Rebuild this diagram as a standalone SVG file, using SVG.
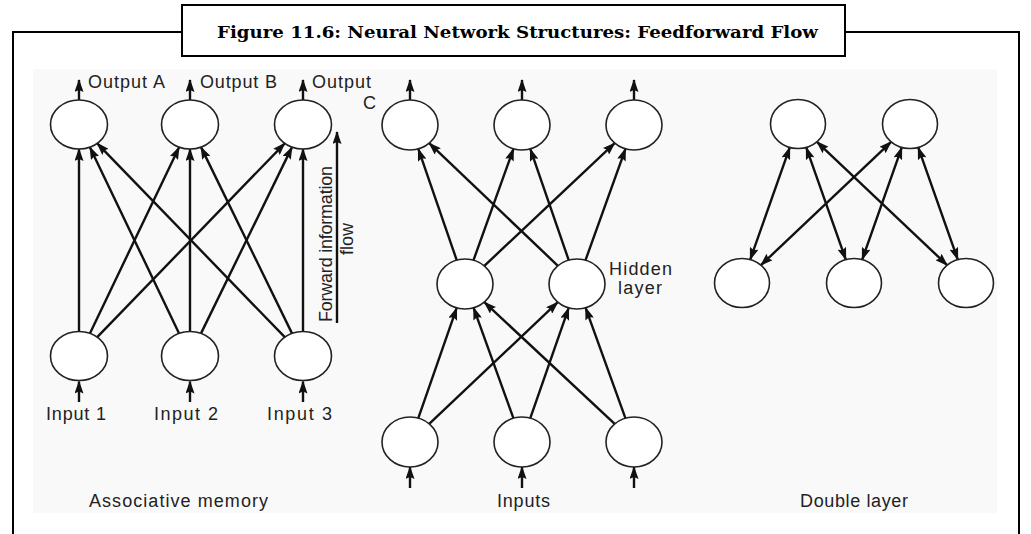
<svg xmlns="http://www.w3.org/2000/svg" width="1031" height="534" viewBox="0 0 1031 534">
<style>
.frame{fill:none;stroke:#000;stroke-width:2}
.node{fill:#fff;stroke:#222;stroke-width:1.6}
.edge{fill:none;stroke:#111;stroke-width:2.4;marker-end:url(#ah)}
.bi{marker-start:url(#ah)}
.lbl{font-family:"Liberation Sans",Arial,sans-serif;font-size:18px;fill:#222}
.title{font-family:"DejaVu Serif","Liberation Serif",serif;font-size:17px;font-weight:bold;fill:#000}
</style>
<defs>
<marker id="ah" markerUnits="userSpaceOnUse" viewBox="0 0 13 9" markerWidth="13" markerHeight="9" refX="12" refY="4.5" orient="auto-start-reverse">
<path d="M0,0 L13,4.5 L0,9 L2,4.5 z" fill="#111"/>
</marker>
</defs>
<rect x="0" y="0" width="1031" height="534" fill="#fff"/>
<rect x="33" y="69" width="964" height="444" fill="#f9f9f9"/>
<g id="frame">
<path class="frame" d="M182,32 H13 V534 M846,32 H1019 V534"/>
<rect class="frame" x="182" y="5" width="663" height="51" fill="#fff"/>
<text class="title" x="217" y="38" textLength="601" lengthAdjust="spacingAndGlyphs">Figure 11.6: Neural Network Structures: Feedforward Flow</text>
</g>
<g id="connectors">
<line class="edge" x1="79" y1="331.5" x2="79" y2="149"/>
<line class="edge" x1="89.9" y1="333.4" x2="179.1" y2="147.2"/>
<line class="edge" x1="97.2" y1="337.2" x2="284.8" y2="143.3"/>
<line class="edge" x1="179.1" y1="333.4" x2="89.9" y2="147.2"/>
<line class="edge" x1="190" y1="331.5" x2="190" y2="149"/>
<line class="edge" x1="201" y1="333.4" x2="292" y2="147.1"/>
<line class="edge" x1="284.8" y1="337.2" x2="97.2" y2="143.3"/>
<line class="edge" x1="292" y1="333.4" x2="201" y2="147.1"/>
<line class="edge" x1="303" y1="331.5" x2="303" y2="149"/>
<line class="edge" x1="79" y1="100" x2="79" y2="80"/>
<line class="edge" x1="190" y1="100" x2="190" y2="80"/>
<line class="edge" x1="303" y1="100" x2="303" y2="80"/>
<line class="edge" x1="79" y1="402" x2="79" y2="381.5"/>
<line class="edge" x1="190" y1="402" x2="190" y2="381.5"/>
<line class="edge" x1="303" y1="402" x2="303" y2="381.5"/>
<line class="edge" x1="337" y1="323" x2="337" y2="132"/>
<line class="edge" x1="418.3" y1="418.1" x2="456.7" y2="307.9"/>
<line class="edge" x1="429.2" y1="423.8" x2="557.8" y2="302.2"/>
<line class="edge" x1="513.4" y1="418.2" x2="473.6" y2="307.8"/>
<line class="edge" x1="530.3" y1="418.1" x2="568.7" y2="307.9"/>
<line class="edge" x1="614.7" y1="423.9" x2="484.3" y2="302.1"/>
<line class="edge" x1="625.4" y1="418.2" x2="585.6" y2="307.8"/>
<line class="edge" x1="456.7" y1="260.1" x2="418.3" y2="148.9"/>
<line class="edge" x1="473.5" y1="260.2" x2="513.5" y2="148.8"/>
<line class="edge" x1="484.3" y1="265.9" x2="614.7" y2="143.1"/>
<line class="edge" x1="557.9" y1="265.8" x2="429.2" y2="143.2"/>
<line class="edge" x1="568.7" y1="260.1" x2="530.3" y2="148.9"/>
<line class="edge" x1="585.5" y1="260.2" x2="625.5" y2="148.8"/>
<line class="edge" x1="410" y1="100" x2="410" y2="80"/>
<line class="edge" x1="522" y1="100" x2="522" y2="80"/>
<line class="edge" x1="634" y1="100" x2="634" y2="80"/>
<line class="edge" x1="410" y1="488" x2="410" y2="467"/>
<line class="edge" x1="522" y1="488" x2="522" y2="467"/>
<line class="edge" x1="634" y1="488" x2="634" y2="467"/>
<line class="edge bi" x1="789.8" y1="147.4" x2="750.2" y2="259.6"/>
<line class="edge bi" x1="806.2" y1="147.4" x2="845.8" y2="259.6"/>
<line class="edge bi" x1="816.9" y1="141.8" x2="947.2" y2="265.2"/>
<line class="edge bi" x1="891.2" y1="141.8" x2="760.9" y2="265.2"/>
<line class="edge bi" x1="901.8" y1="147.4" x2="862.2" y2="259.6"/>
<line class="edge bi" x1="918.2" y1="147.4" x2="957.8" y2="259.6"/>
</g>
<g id="assoc-out-a"><ellipse class="node" cx="79" cy="124.5" rx="28.5" ry="24.5"/></g>
<g id="assoc-out-b"><ellipse class="node" cx="190" cy="124.5" rx="28.5" ry="24.5"/></g>
<g id="assoc-out-c"><ellipse class="node" cx="303" cy="124.5" rx="28.5" ry="24.5"/></g>
<g id="assoc-in-1"><ellipse class="node" cx="79" cy="356" rx="28.5" ry="24.5"/></g>
<g id="assoc-in-2"><ellipse class="node" cx="190" cy="356" rx="28.5" ry="24.5"/></g>
<g id="assoc-in-3"><ellipse class="node" cx="303" cy="356" rx="28.5" ry="24.5"/></g>
<g id="mid-out-1"><ellipse class="node" cx="410" cy="125" rx="28" ry="25"/></g>
<g id="mid-out-2"><ellipse class="node" cx="522" cy="125" rx="28" ry="25"/></g>
<g id="mid-out-3"><ellipse class="node" cx="634" cy="125" rx="28" ry="25"/></g>
<g id="mid-hid-1"><ellipse class="node" cx="465" cy="284" rx="28" ry="25"/></g>
<g id="mid-hid-2"><ellipse class="node" cx="577" cy="284" rx="28" ry="25"/></g>
<g id="mid-in-1"><ellipse class="node" cx="410" cy="442" rx="28" ry="25"/></g>
<g id="mid-in-2"><ellipse class="node" cx="522" cy="442" rx="28" ry="25"/></g>
<g id="mid-in-3"><ellipse class="node" cx="634" cy="442" rx="28" ry="25"/></g>
<g id="dbl-top-1"><ellipse class="node" cx="798" cy="124" rx="27.5" ry="24.5"/></g>
<g id="dbl-top-2"><ellipse class="node" cx="910" cy="124" rx="27.5" ry="24.5"/></g>
<g id="dbl-bot-1"><ellipse class="node" cx="742" cy="283" rx="27.5" ry="24.5"/></g>
<g id="dbl-bot-2"><ellipse class="node" cx="854" cy="283" rx="27.5" ry="24.5"/></g>
<g id="dbl-bot-3"><ellipse class="node" cx="966" cy="283" rx="27.5" ry="24.5"/></g>
<g id="labels">
<text class="lbl" x="88" y="88" textLength="77">Output A</text>
<text class="lbl" x="200" y="88" textLength="77">Output B</text>
<text class="lbl" x="312" y="88" textLength="59">Output</text>
<text class="lbl" x="363" y="109">C</text>
<text class="lbl" x="46" y="420" textLength="60">Input 1</text>
<text class="lbl" x="154" y="420" textLength="64">Input 2</text>
<text class="lbl" x="267" y="420" textLength="65">Input 3</text>
<text class="lbl" text-anchor="middle" textLength="156" transform="translate(332,244) rotate(-90)">Forward information</text>
<text class="lbl" text-anchor="middle" transform="translate(353,239) rotate(-90)">flow</text>
<text class="lbl" x="609" y="275" textLength="63">Hidden</text>
<text class="lbl" x="618" y="294" textLength="44">layer</text>
<text class="lbl" x="89" y="507" textLength="179">Associative memory</text>
<text class="lbl" x="497" y="507" textLength="53">Inputs</text>
<text class="lbl" x="800" y="507" textLength="108">Double layer</text>
</g>
</svg>
